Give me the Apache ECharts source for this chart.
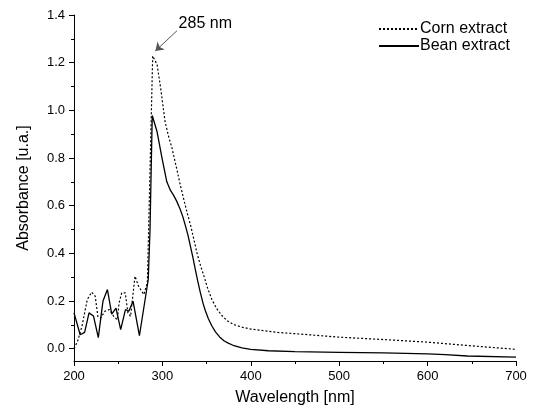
<!DOCTYPE html>
<html>
<head>
<meta charset="utf-8">
<script src="https://cdn.jsdelivr.net/npm/echarts@6/dist/echarts.min.js"></script>
<style>html,body{margin:0;padding:0;background:#fff;}#c{width:536px;height:412px;}</style>
</head>
<body>
<div id="c"></div>
<script>
const cornX = [200,204,209,215,220,224,227,230,235,240,245,249,251,254,258,261,264,269,273,279,283,286,289,294,298,303,307,311,314,317,320,324,328,332,335.5,339,343,347,351,356,361,367,373,380,390,400,430,456,500,540,569,600,645,700];
const cornY = [0.0,0.03,0.093,0.206,0.237,0.22,0.135,0.128,0.157,0.164,0.135,0.121,0.192,0.234,0.234,0.150,0.135,0.304,0.262,0.227,0.277,0.75,1.228,1.192,1.094,0.953,0.89,0.84,0.79,0.742,0.69,0.629,0.57,0.516,0.46,0.403,0.35,0.304,0.255,0.206,0.17,0.14,0.118,0.102,0.09,0.082,0.068,0.061,0.048,0.040,0.034,0.027,0.013,-0.003];
const beanX = [200,207,212,217,222,227.5,232.8,237.8,242.7,247.5,252.8,258.2,262,266.8,274,284,286,288.5,294,299.5,305,309,312.7,316,320,323,326,329,331.6,334.5,337.2,340,343,346,348.5,352,356,360,365,370,375,380,390,400,420,450,500,550,600,620,645,700];
const beanY = [0.15,0.058,0.068,0.15,0.137,0.046,0.2,0.248,0.145,0.17,0.08,0.164,0.157,0.199,0.054,0.29,0.5,0.978,0.91,0.80,0.70,0.665,0.643,0.62,0.586,0.555,0.516,0.475,0.431,0.383,0.333,0.283,0.234,0.19,0.16,0.125,0.095,0.07,0.048,0.032,0.022,0.014,0.003,-0.003,-0.009,-0.013,-0.016,-0.018,-0.022,-0.025,-0.031,-0.036];
const seriesNames = ['Corn extract','Bean extract'];
const yMajorTicks = [0,0.2,0.4,0.6,0.8,1.0,1.2,1.4];
const yMinorTicks = [0.1,0.3,0.5,0.7,0.9,1.1,1.3];
const xTitle = 'Wavelength [nm]';
const yTitle = 'Absorbance [u.a.]';
const annotText = '285 nm';
const annotTextAt = [348.5, 1.362];
const arrowFrom = [316.5, 1.334];
const arrowTo = [292, 1.249];

const zip = (xs, ys) => xs.map((x, i) => [x, ys[i]]);
const font = 'Liberation Sans, Arial, sans-serif';
const yMin = -0.052;

function build(level) {
  const yMax = level >= 1 ? 1.4001 : 1.4;
  const nameStyle = {fontFamily: font, fontSize: 16, color: '#000'};
  const lbl = {fontFamily: font, fontSize: 13, color: '#000', margin: 9};
  const useNames = level < 4;
  const yAxes = [];
  if (level < 3) {
    yAxes.push({
      type: 'value', min: yMin, max: yMax, position: 'left', offset: 0,
      name: useNames ? yTitle : '', nameLocation: 'middle', nameGap: 42, nameTextStyle: nameStyle,
      axisLine: {show: true, onZero: false, lineStyle: {color: '#000', width: 1}},
      axisTick: {show: true, length: 5, customValues: yMajorTicks, lineStyle: {color: '#000'}},
      axisLabel: Object.assign({customValues: yMajorTicks, formatter: v => v.toFixed(1)}, lbl),
      splitLine: {show: false}
    });
  } else {
    yAxes.push({
      type: 'value', min: yMin, max: yMax, position: 'left', offset: 0, splitNumber: 7,
      name: useNames ? yTitle : '', nameLocation: 'middle', nameGap: 42, nameTextStyle: nameStyle,
      axisLine: {show: true, onZero: false, lineStyle: {color: '#000', width: 1}},
      axisTick: {show: true, length: 5, lineStyle: {color: '#000'}},
      minorTick: {show: true, splitNumber: 2, length: 3, lineStyle: {color: '#000'}},
      axisLabel: Object.assign({showMinLabel: false, formatter: v => v.toFixed(1)}, lbl),
      splitLine: {show: false}
    });
  }
  if (level < 2) {
    yAxes.push({
      type: 'value', min: yMin, max: yMax, position: 'left', offset: 0,
      axisLine: {show: false, onZero: false},
      axisTick: {show: true, length: 3, customValues: yMinorTicks, lineStyle: {color: '#000'}},
      axisLabel: {show: false},
      splitLine: {show: false}
    });
  }
  const corn = {
    name: seriesNames[0], type: 'line', yAxisIndex: 0, symbol: 'none', showSymbol: false,
    data: zip(cornX, cornY),
    lineStyle: {color: '#000', width: 1.2, type: [2, 2]},
    itemStyle: {color: '#000'}
  };
  if (level < 5) {
    corn.markLine = {
      symbol: ['none', 'arrow'], symbolSize: 8,
      lineStyle: {color: '#555', width: 1, type: 'solid'},
      label: {show: false},
      data: [[{coord: arrowFrom}, {coord: arrowTo}]]
    };
    corn.markPoint = {
      symbolSize: 1,
      label: {show: true, position: 'inside', formatter: annotText, fontFamily: font, fontSize: 16, color: '#000'},
      data: [{coord: annotTextAt}]
    };
  }
  const opt = {
    animation: false,
    backgroundColor: '#fff',
    grid: {left: 74, right: 20, top: 15, bottom: 51},
    xAxis: {
      type: 'value', min: 200, max: 700, interval: 100,
      name: useNames ? xTitle : '', nameLocation: 'middle', nameGap: 29, nameTextStyle: nameStyle,
      axisLine: {show: true, onZero: false, lineStyle: {color: '#000', width: 1}},
      axisTick: {show: true, inside: false, length: 5, lineStyle: {color: '#000'}},
      minorTick: {show: true, splitNumber: 2, length: 3, lineStyle: {color: '#000'}},
      axisLabel: lbl,
      splitLine: {show: false}
    },
    yAxis: yAxes,
    series: [corn, {
      name: seriesNames[1], type: 'line', yAxisIndex: 0, symbol: 'none', showSymbol: false,
      data: zip(beanX, beanY),
      lineStyle: {color: '#000', width: 1.3, type: 'solid'},
      itemStyle: {color: '#000'}
    }]
  };
  if (level < 5) {
    opt.legend = {
      orient: 'vertical', left: 373, top: 16, itemWidth: 40, itemHeight: 12, itemGap: 1,
      itemStyle: {opacity: 0},
      textStyle: {fontFamily: font, fontSize: 16, color: '#000', padding: [0,0,0,-4]},
      data: seriesNames
    };
  }
  if (!useNames) {
    opt.graphic = [
      {type: 'text', left: 'center', bottom: 6, style: {text: xTitle, font: '16px ' + font, fill: '#000'}},
      {type: 'text', left: 14, top: 'middle', rotation: Math.PI / 2, style: {text: yTitle, font: '16px ' + font, fill: '#000'}}
    ];
  }
  return opt;
}

const chart = echarts.init(document.getElementById('c'));

function isDark(ctx, x, y) {
  const d = ctx.getImageData(x, y, 1, 1).data;
  return d[3] > 0 && d[0] < 170;
}
function axesOk() {
  try {
    const cv = document.querySelector('#c canvas');
    const ctx = cv.getContext('2d');
    const ax = Math.round(chart.convertToPixel({xAxisIndex: 0}, 200));
    const ay = Math.round(chart.convertToPixel({yAxisIndex: 0}, 0.75));
    let yOk = false;
    for (let x = ax - 2; x <= ax + 1; x++) if (isDark(ctx, x, ay)) yOk = true;
    const bx = Math.round(chart.convertToPixel({xAxisIndex: 0}, 660));
    const by = Math.round(chart.convertToPixel({yAxisIndex: 0}, yMin));
    let xOk = false;
    for (let y = by - 1; y <= by + 1; y++) if (isDark(ctx, bx, y)) xOk = true;
    return xOk && yOk;
  } catch (e) { return true; }
}

for (let level = 0; level <= 5; level++) {
  chart.setOption(build(level), true);
  if (axesOk()) break;
}
</script>
</body>
</html>
